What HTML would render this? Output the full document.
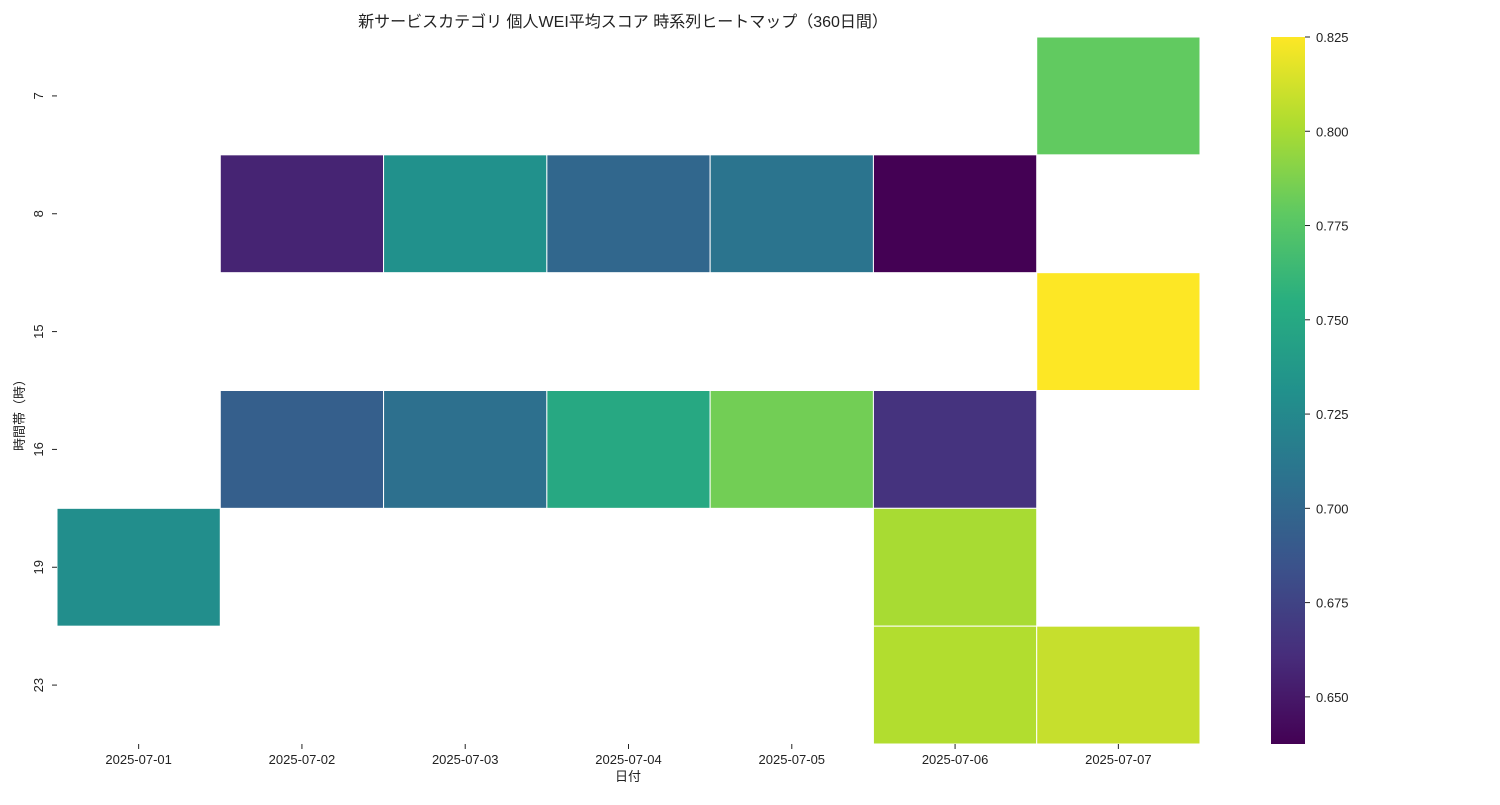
<!DOCTYPE html>
<html><head><meta charset="utf-8"><style>
body{margin:0;background:#fff;}
svg text{font-family:"Liberation Sans","Noto Sans CJK JP",sans-serif;fill:#222;}
</style></head><body>
<svg id="c" width="1500" height="800" xmlns="http://www.w3.org/2000/svg"></svg>
<script>
const dates=["2025-07-01","2025-07-02","2025-07-03","2025-07-04","2025-07-05","2025-07-06","2025-07-07"];
const hours=["7","8","15","16","19","23"];
const row7=[null,null,null,null,null,null,0.779];
const row8=[null,0.656,0.731,0.700,0.709,0.6375,null];
const row15=[null,null,null,null,null,null,0.825];
const row16=[null,0.694,0.706,0.750,0.784,0.665,null];
const row19=[0.729,null,null,null,null,0.800,null];
const row23=[null,null,null,null,null,0.803,0.809];
const cbTicks=[0.650,0.675,0.700,0.725,0.750,0.775,0.800,0.825];
const vmin=0.6375, vmax=0.825;
const rows=[row7,row8,row15,row16,row19,row23];
const NS="http://www.w3.org/2000/svg";
const svg=document.getElementById('c');
const L=57,R=1200,T=37,B=744;
const cw=(R-L)/dates.length, ch=(B-T)/hours.length;
const stops=["#440154","#472d7b","#3b528b","#2c728e","#21918c","#28ae80","#5ec962","#addc30","#fde725"];
function hex(h){return [1,3,5].map(i=>parseInt(h.substr(i,2),16));}
function viridis(t){t=Math.max(0,Math.min(1,t));const p=t*(stops.length-1);const i=Math.min(stops.length-2,Math.floor(p));const f=p-i;const a=hex(stops[i]),b=hex(stops[i+1]);return "rgb("+a.map((v,k)=>Math.round(v+(b[k]-v)*f)).join(",")+")";}
function el(tag,attrs,txt){const e=document.createElementNS(NS,tag);for(const k in attrs)e.setAttribute(k,attrs[k]);if(txt!==undefined)e.textContent=txt;svg.appendChild(e);return e;}
function cy(v){return B-(v-vmin)/(vmax-vmin)*(B-T);}
// title
let t=el('text',{x:623,y:27,'text-anchor':'middle','font-size':16},"新サービスカテゴリ 個人WEI平均スコア 時系列ヒートマップ（360日間）");


// cells
rows.forEach((r,ri)=>r.forEach((v,ci)=>{if(v===null)return;
 const c=el('rect',{x:L+ci*cw,y:T+ri*ch,width:cw,height:ch,fill:viridis((v-vmin)/(vmax-vmin)),stroke:'#fff','stroke-width':1});
 
 
}));
// x ticks
dates.forEach((d,i)=>{const x=L+(i+0.5)*cw;
 const l=el('line',{x1:x,x2:x,y1:B,y2:B+5,stroke:'#222'});
 
 
 const tx=el('text',{x:x,y:B+20,'text-anchor':'middle','font-size':13},d);
 
 
});
// y ticks
hours.forEach((h,i)=>{const y=T+(i+0.5)*ch;
 const l=el('line',{x1:L-5,x2:L,y1:y,y2:y,stroke:'#222'});
 
 
 const tx=el('text',{x:0,y:0,'text-anchor':'middle','font-size':13,transform:'translate(43,'+y+') rotate(-90)'},h);
 
 
});
let xl=el('text',{x:628,y:781,'text-anchor':'middle','font-size':13},"日付");


let yl=el('text',{x:0,y:0,'text-anchor':'middle','font-size':13,transform:'translate(24,412) rotate(-90)'},"時間帯（時）");


// colorbar
const defs=el('defs',{});
const g=document.createElementNS(NS,'linearGradient');g.setAttribute('id','vg');g.setAttribute('x1','0');g.setAttribute('y1','1');g.setAttribute('x2','0');g.setAttribute('y2','0');
stops.forEach((s,i)=>{const st=document.createElementNS(NS,'stop');st.setAttribute('offset',i/(stops.length-1));st.setAttribute('stop-color',s);g.appendChild(st);});
defs.appendChild(g);
let cb=el('rect',{x:1271,y:T,width:34,height:B-T,fill:'url(#vg)'});


cbTicks.forEach(v=>{const y=cy(v);
 const l=el('line',{x1:1305,x2:1310,y1:y,y2:y,stroke:'#222'});
 
 
 const tx=el('text',{x:1316,y:y+5,'font-size':13},v.toFixed(3));
 
 
});
</script>
</body></html>
